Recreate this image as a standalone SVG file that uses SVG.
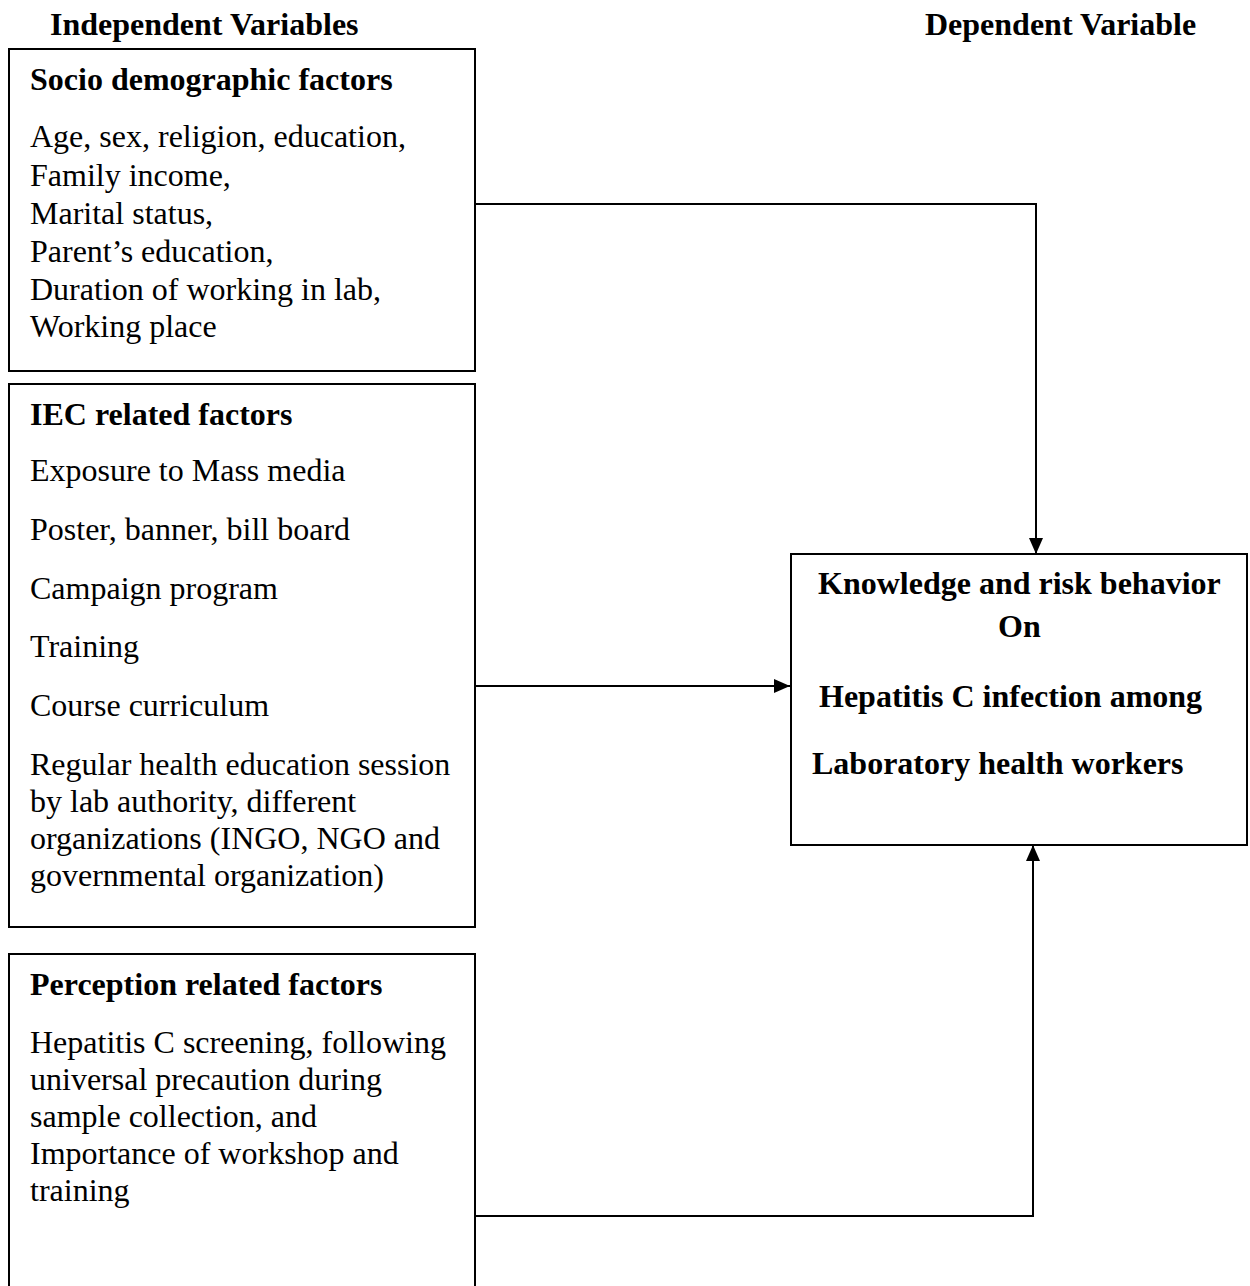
<svg xmlns="http://www.w3.org/2000/svg" width="1250" height="1286" viewBox="0 0 1250 1286">
<style>
.box{fill:#fff;stroke:#000;stroke-width:2}
.t{font-family:"Liberation Serif","Times New Roman",serif;font-size:32px;fill:#000}
.b{font-weight:bold}
.c{fill:none;stroke:#000;stroke-width:2}
</style>
<defs>
<marker id="arr" viewBox="0 0 16 14" refX="16" refY="7" markerWidth="16" markerHeight="14" markerUnits="userSpaceOnUse" orient="auto">
<path d="M0,0 L16,7 L0,14 Z" fill="#000"/>
</marker>
</defs>
<rect width="1250" height="1286" fill="#fff"/>
<text class="t b" x="50" y="35">Independent Variables</text>
<text class="t b" x="925" y="35">Dependent Variable</text>
<g id="socio">
<rect class="box" x="9" y="49" width="466" height="322"/>
<text class="t b" x="30" y="90">Socio demographic factors</text>
<text class="t" x="30" y="147">Age, sex, religion, education,</text>
<text class="t" x="30" y="186">Family income,</text>
<text class="t" x="30" y="224">Marital status,</text>
<text class="t" x="30" y="262">Parent’s education,</text>
<text class="t" x="30" y="300">Duration of working in lab,</text>
<text class="t" x="30" y="337">Working place</text>
</g>
<g id="iec">
<rect class="box" x="9" y="384" width="466" height="543"/>
<text class="t b" x="30" y="425">IEC related factors</text>
<text class="t" x="30" y="481">Exposure to Mass media</text>
<text class="t" x="30" y="540">Poster, banner, bill board</text>
<text class="t" x="30" y="599">Campaign program</text>
<text class="t" x="30" y="657">Training</text>
<text class="t" x="30" y="716">Course curriculum</text>
<text class="t" x="30" y="775">Regular health education session</text>
<text class="t" x="30" y="812">by lab authority, different</text>
<text class="t" x="30" y="849">organizations (INGO, NGO and</text>
<text class="t" x="30" y="886">governmental organization)</text>
</g>
<g id="perception">
<path class="c" d="M9,1290 V954 H475 V1290"/>
<text class="t b" x="30" y="995">Perception related factors</text>
<text class="t" x="30" y="1053">Hepatitis C screening, following</text>
<text class="t" x="30" y="1090">universal precaution during</text>
<text class="t" x="30" y="1127">sample collection, and</text>
<text class="t" x="30" y="1164">Importance of workshop and</text>
<text class="t" x="30" y="1201">training</text>
</g>
<g id="dependent">
<rect class="box" x="791" y="554" width="456" height="291"/>
<text class="t b" x="818" y="594">Knowledge and risk behavior</text>
<text class="t b" x="998" y="637">On</text>
<text class="t b" x="819" y="707">Hepatitis C infection among</text>
<text class="t b" x="812" y="774">Laboratory health workers</text>
</g>
<g id="connectors">
<path class="c" d="M475,204 H1036 V554" marker-end="url(#arr)"/>
<path class="c" d="M475,686 H790" marker-end="url(#arr)"/>
<path class="c" d="M475,1216 H1033 V845" marker-end="url(#arr)"/>
</g>
</svg>
